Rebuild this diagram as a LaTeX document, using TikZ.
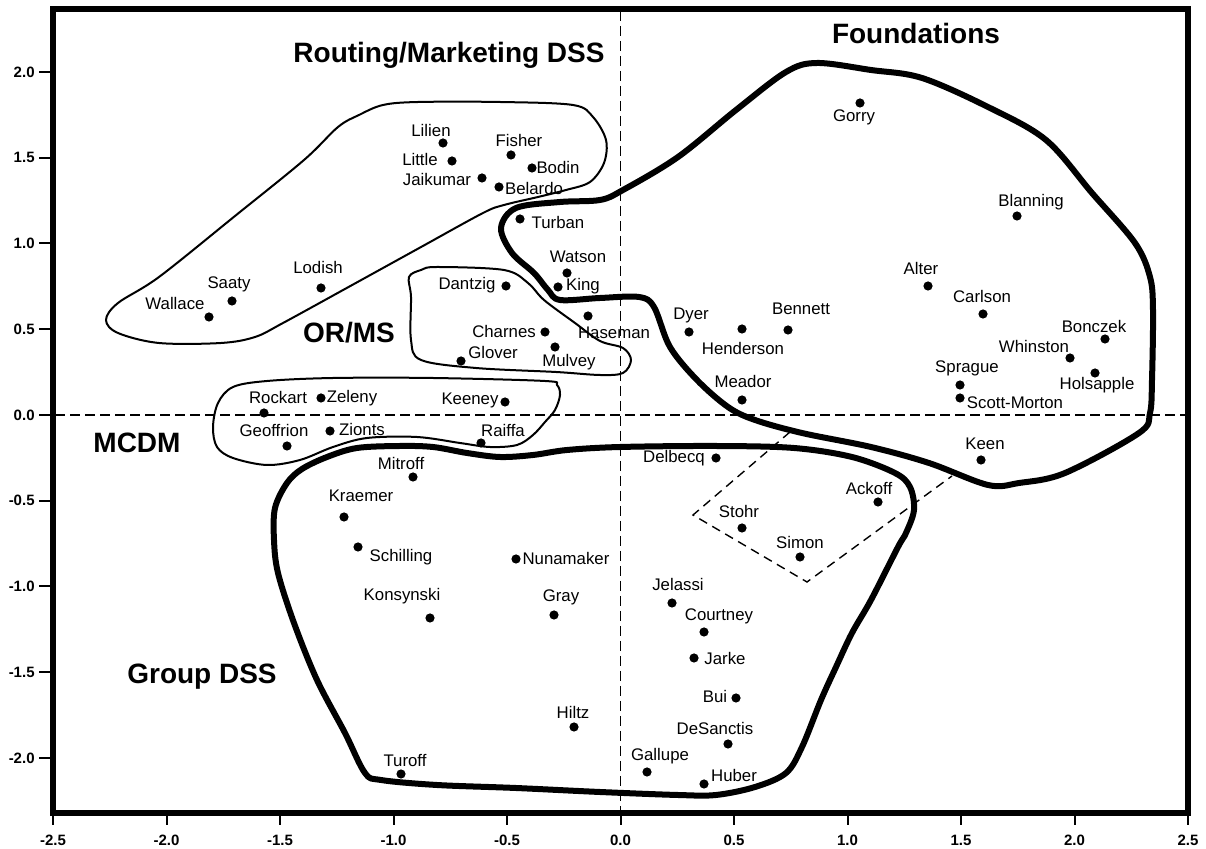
\documentclass[tikz,border=0pt]{standalone}
\usepackage{fontspec}
\setmainfont{Liberation Sans}
\begin{document}
\begin{tikzpicture}[x=0.5pt,y=-0.5pt,
  dot/.style={circle,fill=black,inner sep=0pt,minimum size=4.6pt},
  nm/.style={font=\fontsize{8.4}{9}\selectfont,inner sep=0pt},
  ttl/.style={font=\bfseries\fontsize{14}{15}\selectfont,inner sep=0pt},
  tk/.style={font=\bfseries\fontsize{7.5}{8}\selectfont,inner sep=0pt},
  thinblob/.style={line width=1pt,line join=round},
  thickblob/.style={line width=3pt,line join=round},
  axdash/.style={line width=0.8pt,dash pattern=on 5pt off 2.5pt},
  quaddash/.style={line width=0.7pt,dash pattern=on 4.5pt off 3pt},
  frm/.style={line width=2.6pt},
  tick/.style={line width=1pt}]
\useasboundingbox (0,0) rectangle (1206,849);

% frame
\draw[frm] (53,9) rectangle (1188,813);
\coordinate (vtop) at (620.5,11);
\coordinate (vbot) at (620.5,811);
\coordinate (hl) at (55,415);
\coordinate (hr) at (1186,415);
\draw[axdash] (vtop) -- (vbot);
\draw[axdash] (hl) -- (hr);

% ticks
\foreach \k/\t in {-4/-2.0,-3/-1.5,-2/-1.0,-1/-0.5,0/0.0,1/0.5,2/1.0,3/1.5,4/2.0}{
  \draw[tick] (39,415-\k*85.75) -- (53,415-\k*85.75);
  \node[tk,anchor=east] (yl\k) at (35,415-\k*85.75) {\t};
}
\foreach \k/\t in {-5/-2.5,-4/-2.0,-3/-1.5,-2/-1.0,-1/-0.5,0/0.0,1/0.5,2/1.0,3/1.5,4/2.0,5/2.5}{
  \draw[tick] (620.5+\k*113.5,813) -- (620.5+\k*113.5,825);
  \node[tk] (xl\k) at (620.5+\k*113.5,840) {\t};
}

% Routing/Marketing blob
\draw[thinblob] plot[smooth cycle,tension=0.55] coordinates {
 (359,115) (383,105) (418,102) (500,102) (573,105) (593,117) (606,140) (604,163)
 (590,182) (566,190) (538,197) (504,205) (483,213) (420,247.6) (350,286.2)
 (283,323) (255,337) (221,343) (159,343) (118,333) (106,320) (118,303) (159,277)
 (235,216) (304,160) (338,127)};

% OR/MS blob
\draw[thinblob] plot[smooth cycle,tension=0.55] coordinates {
 (409,277) (421,270) (437,267) (504,270) (528,283) (544,300) (575,323) (600,341)
 (623,348) (631,360) (623,373) (600,375) (556,372) (476,368) (421,360) (411,340)
 (411,297)};

% MCDM blob
\draw[thinblob] plot[smooth cycle,tension=0.55] coordinates {
 (233,387) (267,381) (333,378) (433,378) (545,381) (557,385) (560,395) (555,410)
 (545,422) (533,435) (517,445) (490,447) (460,443) (417,437) (367,438) (333,447)
 (300,460) (267,465) (233,458) (217,447) (213,427) (218,403)};

% Foundations blob
\draw[thickblob] plot[smooth cycle,tension=0.55] coordinates {
 (600,200) (623,190) (678,157) (736,110) (786,72) (817,63) (871,70) (922,78)
 (988,107) (1046,140) (1092,193) (1135,243) (1150,277) (1153,310) (1152,380)
 (1150,413) (1139,433) (1065,473) (1019,483) (988,485) (929,463) (871,447)
 (802,433) (755,420) (728,407) (697,380) (670,347) (654,307) (639,297) (600,298)
 (560,300) (548,290) (534,273) (512,253) (501,228) (516,208) (560,202)};

% Group DSS blob
\draw[thickblob] plot[smooth cycle,tension=0.55] coordinates {
 (287,483) (302,469) (327,457) (357,448) (400,446) (433,447) (467,453) (500,457)
 (533,455) (567,450) (620,447) (716,446) (794,448) (852,457) (895,473) (910,487)
 (914,510) (906,533) (898,547) (871,600) (852,633) (836,667) (821,700) (802,747)
 (786,773) (755,787) (716,795) (678,795) (600,792) (516,788) (437,785) (381,780)
 (365,773) (345,733) (317,680) (294,623) (278,573) (274,540) (275,508)};

% dashed partial quadrilateral
\coordinate (q1) at (790,432);
\coordinate (q2) at (693,515);
\coordinate (q3) at (807,582);
\coordinate (q4) at (952,476);
\draw[quaddash] (q1) -- (q2) -- (q3) -- (q4);

% titles
\node[ttl] (tRout) at (449,55) {Routing/Marketing DSS};
\node[ttl] (tFound) at (916,33) {Foundations};
\node[ttl] (tORMS) at (349,333) {OR/MS};
\node[ttl] (tMCDM) at (137,443) {MCDM};
\node[ttl] (tGroup) at (202,677) {Group DSS};

% points
\node[dot] (lilien) at (443,143) {};   \node[nm] (lilienL) at (431,131) {Lilien};
\node[dot] (little) at (452,161) {};   \node[nm] (littleL) at (420,160) {Little};
\node[dot] (fisher) at (511,155) {};   \node[nm] (fisherL) at (519,141) {Fisher};
\node[dot] (bodin) at (532,168) {};    \node[nm] (bodinL) at (558,168) {Bodin};
\node[dot] (jaikumar) at (482,178) {}; \node[nm] (jaikumarL) at (437,180) {Jaikumar};
\node[dot] (belardo) at (499,187) {};  \node[nm] (belardoL) at (534,189) {Belardo};
\node[dot] (turban) at (520,219) {};   \node[nm] (turbanL) at (558,223) {Turban};
\node[dot] (watson) at (567,273) {};   \node[nm] (watsonL) at (578,257) {Watson};
\node[dot] (king) at (558,287) {};     \node[nm] (kingL) at (583,286) {King};
\node[dot] (dantzig) at (506,286) {};  \node[nm] (dantzigL) at (467,285) {Dantzig};
\node[dot] (lodish) at (321,288) {};   \node[nm] (lodishL) at (318,268) {Lodish};
\node[dot] (saaty) at (232,301) {};    \node[nm] (saatyL) at (229,284) {Saaty};
\node[dot] (wallace) at (209,317) {};  \node[nm] (wallaceL) at (175,304) {Wallace};
\node[dot] (haseman) at (588,316) {};  \node[nm] (hasemanL) at (614,333) {Haseman};
\node[dot] (charnes) at (545,332) {};  \node[nm] (charnesL) at (504,332) {Charnes};
\node[dot] (glover) at (461,361) {};   \node[nm] (gloverL) at (493,353) {Glover};
\node[dot] (mulvey) at (555,347) {};   \node[nm] (mulveyL) at (569,362) {Mulvey};
\node[dot] (rockart) at (264,413) {};  \node[nm] (rockartL) at (278,398) {Rockart};
\node[dot] (zeleny) at (321,398) {};   \node[nm] (zelenyL) at (352,398) {Zeleny};
\node[dot] (keeney) at (505,402) {};   \node[nm] (keeneyL) at (470,400) {Keeney};
\node[dot] (geoffrion) at (287,446) {};\node[nm] (geoffrionL) at (274,430) {Geoffrion};
\node[dot] (zionts) at (330,431) {};   \node[nm] (ziontsL) at (362,429) {Zionts};
\node[dot] (raiffa) at (481,443) {};   \node[nm] (raiffaL) at (503,430) {Raiffa};
\node[dot] (mitroff) at (413,477) {};  \node[nm] (mitroffL) at (401,463) {Mitroff};
\node[dot] (kraemer) at (344,517) {};  \node[nm] (kraemerL) at (361,496) {Kraemer};
\node[dot] (schilling) at (358,547) {};\node[nm] (schillingL) at (401,557) {Schilling};
\node[dot] (nunamaker) at (516,559) {};\node[nm] (nunamakerL) at (566,558) {Nunamaker};
\node[dot] (konsynski) at (430,618) {};\node[nm] (konsynskiL) at (402,596) {Konsynski};
\node[dot] (gray) at (554,615) {};     \node[nm] (grayL) at (561,597) {Gray};
\node[dot] (hiltz) at (574,727) {};    \node[nm] (hiltzL) at (573,712) {Hiltz};
\node[dot] (turoff) at (401,774) {};   \node[nm] (turoffL) at (405,761) {Turoff};
\node[dot] (gorry) at (860,103) {};    \node[nm] (gorryL) at (854,117) {Gorry};
\node[dot] (blanning) at (1017,216) {};\node[nm] (blanningL) at (1031,202) {Blanning};
\node[dot] (alter) at (928,286) {};    \node[nm] (alterL) at (921,269) {Alter};
\node[dot] (carlson) at (983,314) {};  \node[nm] (carlsonL) at (982,297) {Carlson};
\node[dot] (bonczek) at (1105,339) {}; \node[nm] (bonczekL) at (1094,327) {Bonczek};
\node[dot] (whinston) at (1070,358) {};\node[nm] (whinstonL) at (1034,347) {Whinston};
\node[dot] (holsapple) at (1095,373) {};\node[nm] (holsappleL) at (1097,385) {Holsapple};
\node[dot] (sprague) at (960,385) {};  \node[nm] (spragueL) at (967,368) {Sprague};
\node[dot] (scott) at (960,398) {};    \node[nm] (scottL) at (1015,403) {Scott-Morton};
\node[dot] (dyer) at (689,332) {};     \node[nm] (dyerL) at (691,315) {Dyer};
\node[dot] (henderson) at (742,329) {};\node[nm] (hendersonL) at (743,349) {Henderson};
\node[dot] (bennett) at (788,330) {};  \node[nm] (bennettL) at (801,309) {Bennett};
\node[dot] (meador) at (742,400) {};   \node[nm] (meadorL) at (743,381) {Meador};
\node[dot] (delbecq) at (716,458) {};  \node[nm] (delbecqL) at (674,458) {Delbecq};
\node[dot] (keen) at (981,460) {};     \node[nm] (keenL) at (985,444) {Keen};
\node[dot] (ackoff) at (878,502) {};   \node[nm] (ackoffL) at (869,488) {Ackoff};
\node[dot] (stohr) at (742,528) {};    \node[nm] (stohrL) at (739,511) {Stohr};
\node[dot] (simon) at (800,557) {};    \node[nm] (simonL) at (800,542) {Simon};
\node[dot] (jelassi) at (672,603) {};  \node[nm] (jelassiL) at (678,584) {Jelassi};
\node[dot] (courtney) at (704,632) {}; \node[nm] (courtneyL) at (719,616) {Courtney};
\node[dot] (jarke) at (694,658) {};    \node[nm] (jarkeL) at (725,658) {Jarke};
\node[dot] (bui) at (736,698) {};      \node[nm] (buiL) at (715,696) {Bui};
\node[dot] (desanctis) at (728,744) {};\node[nm] (desanctisL) at (715,728) {DeSanctis};
\node[dot] (gallupe) at (647,772) {};  \node[nm] (gallupeL) at (660,756) {Gallupe};
\node[dot] (huber) at (704,784) {};    \node[nm] (huberL) at (734,775) {Huber};
\end{tikzpicture}
\end{document}
